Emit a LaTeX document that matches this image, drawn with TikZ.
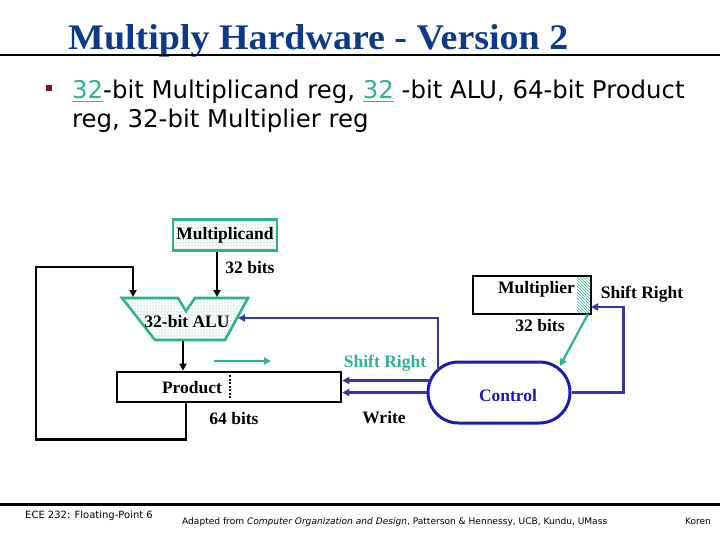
\documentclass[tikz,border=0pt]{standalone}
\usepackage{fontspec}
\setmainfont{Liberation Serif}
\newfontfamily\sansf{DejaVu Sans}
\usetikzlibrary{arrows.meta,patterns,shapes.misc}
\definecolor{titleblue}{HTML}{0C3A8A}
\definecolor{tealc}{HTML}{2DB393}
\definecolor{lineblue}{HTML}{3535A5}
\definecolor{ctrlblue}{HTML}{1C1CB0}
\definecolor{bulletred}{HTML}{7A1428}
\begin{document}
\begin{tikzpicture}[x=1pt,y=-1pt,
  lbl/.style={font=\fontsize{17.5}{19}\selectfont\bfseries, inner sep=0pt},
  blk/.style={line width=2.6pt, draw=black},
  bl/.style={line width=2.6pt, draw=lineblue},
  tl/.style={line width=2.2pt, draw=tealc},
  arr/.style={-{Triangle[length=7pt,width=7pt]}},
  dotfill/.style={preaction={fill=white}, pattern=dots, pattern color=tealc!75!gray},
  regbox/.style={draw=black, line width=2.6pt, inner sep=0pt},
  foot/.style={font=\sansf\fontsize{10}{12}\selectfont, inner sep=0pt, anchor=base west}
]
\useasboundingbox (0,0) rectangle (720,540);
% title
\node[anchor=base west, inner sep=0pt, text=titleblue, font=\fontsize{36}{38}\selectfont\bfseries] (title) at (68,50) {\resizebox{500pt}{\height}{Multiply Hardware - Version 2}};
\draw[line width=2pt] (0,55) -- (720,55);
% bullet
\fill[bulletred] (46,85) rectangle (52,91);
\node[anchor=base west, inner sep=0pt, font=\sansf\fontsize{24.4}{26}\selectfont] (b1) at (72,99) {\textcolor{tealc}{\underline{32}}-bit Multiplicand reg, \textcolor{tealc}{\underline{32}} -bit ALU, 64-bit Product};
\node[anchor=base west, inner sep=0pt, font=\sansf\fontsize{24.4}{26}\selectfont] (b2) at (72,128) {reg, 32-bit Multiplier reg};

% Multiplicand
\node[draw=tealc, line width=2.6pt, dotfill, minimum width=104pt, minimum height=31pt, lbl] (mcand) at (225,235) {Multiplicand};
\node[lbl] (b32a) at (250,268) {32 bits};

% ALU
\draw[draw=tealc, line width=2.6pt, line join=miter, dotfill] (122,298) -- (178,298) -- (186,311) -- (195,298) -- (248,298) -- (225,340) -- (155,340) -- cycle;
\node[lbl] (alu) at (187,322) {32-bit ALU};
\coordinate (aluin1) at (217,297);
\coordinate (aluin2) at (133,297);
\coordinate (aluinr) at (238,318);
\coordinate (aluout) at (183,341);

% Product
\node[regbox, minimum width=224pt, minimum height=30pt] (prod) at (229,387) {};
\node[lbl] (prodl) at (192,388) {Product};
\draw[line width=2pt, dash pattern=on 2pt off 1.5pt] (230,375) -- (230,399);
\node[lbl] (b64) at (234,419) {64 bits};

% Multiplier
\node[regbox, minimum width=118pt, minimum height=38pt] (mplier) at (532,295) {};
\fill[preaction={fill=white}, pattern=north west lines, pattern color=tealc] (577,277.3) rectangle (589.7,312.7);
\node[lbl, anchor=east] (mplierl) at (575,289) {Multiplier};
\node[lbl] (b32b) at (540,326) {32 bits};
\node[lbl] (sr1) at (642,294) {Shift Right};
\coordinate (mpin) at (591,307);
\coordinate (mpout) at (588,314);

% Control
\node[draw=ctrlblue, line width=3pt, rounded rectangle, minimum width=142pt, minimum height=61pt, inner sep=0pt] (ctrl) at (499,392.5) {};
\node[lbl, text=ctrlblue] (ctrll) at (508,396) {Control};
\coordinate (ctop) at (438,370.5);
\coordinate (cw) at (430.5,380.5);
\coordinate (ctin) at (560,366);

\node[lbl, text=tealc] (sr2) at (385,363) {Shift Right};
\node[lbl] (wr) at (384,418) {Write};

% connectors
\draw[blk, arr] ([xshift=-8pt]mcand.south) -- (aluin1);
\draw[blk, arr] (aluout) -- (aluout |- prod.north);
\draw[blk, arr] ([xshift=-43pt]prod.south) -- ++(0,36) -| (36,267) -| (aluin2);
\draw[bl, arr] (ctop) |- (aluinr);
\draw[bl, arr] (cw) -- (cw -| prod.east);
\draw[bl, arr] (ctrl.west) -- (ctrl.west -| prod.east);
\draw[bl, arr] (ctrl.east) -- ++(52,0) |- (mpin);
\draw[tl, arr] (mpout) -- (ctin);
\coordinate (sa) at (214,361);
\coordinate (sb) at (271,361);
\draw[tl, arr] (sa) -- (sb);

% footer
\draw[line width=3pt] (0,504) -- (720,504);
\node[foot] (f1) at (25,518) {ECE 232: Floating-Point 6};
\node[foot] (f2) at (182,524) {\resizebox{425pt}{\height}{\fontsize{9}{11}\selectfont Adapted from \textit{Computer Organization and Design}, Patterson \& Hennessy, UCB, Kundu, UMass}};
\node[foot, font=\sansf\fontsize{9}{11}\selectfont] (f3) at (685,524) {Koren};
\end{tikzpicture}
\end{document}
